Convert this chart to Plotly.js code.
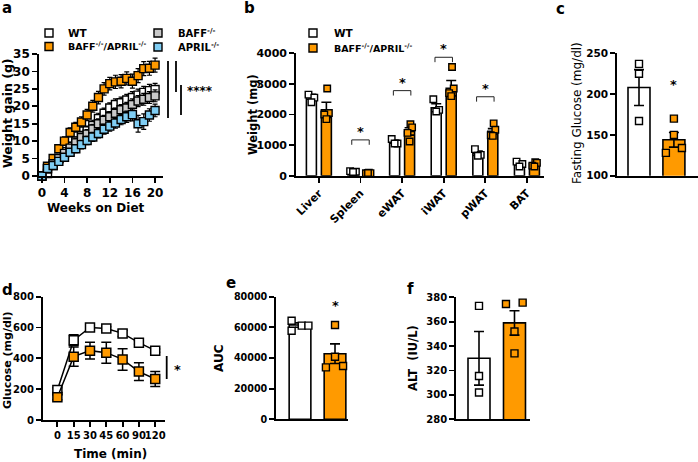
<!DOCTYPE html>
<html><head><meta charset="utf-8">
<script src="https://cdn.plot.ly/plotly-3.0.1.min.js"></script>
<style>html,body{margin:0;padding:0;background:#fff;} #chart{width:698px;height:462px;}</style>
</head><body><div id="chart"></div>
<script>
// ================= DATA =================
// (a) weight gain (g) over weeks on diet
const weeks = [0,1,2,3,4,5,6,7,8,9,10,11,12,13,14,15,16,17,18,19,20];
const gainWT      = [0,0.7,3,5,7,8.5,10,11.5,13,14.5,16.5,18,19.5,20.5,21,21.8,22.5,23.2,24,24.5,24.8];
const gainWTerr   = [0,0.5,0.8,1,1,1.2,1.2,1.3,1.3,1.5,1.5,1.5,1.5,1.6,1.6,1.6,1.7,1.7,1.7,1.8,1.8];
const gainDKO     = [0,2.8,5,7.8,10,12.5,14,15.5,17.5,20,22.5,25,26.5,27,27.2,28,27.2,28.8,30.8,30.9,31.8];
const gainDKOerr  = [0,0.5,0.8,1,1.2,1.3,1.4,1.5,1.6,1.7,1.8,1.8,1.8,1.9,1.9,1.9,2,2,2,2,2];
const gainBAFF    = [0,2,3.5,5,6.5,8,9.5,11,12,13.5,15,16,17,18,19,19.5,20.5,21.5,22,22.5,23];
const gainBAFFerr = [0,0.5,0.7,0.9,1,1.1,1.2,1.2,1.3,1.3,1.4,1.4,1.5,1.5,1.5,1.6,1.6,1.6,1.7,1.7,1.7];
const gainAPRIL   = [0,2.2,3,4.2,5.4,6.8,7.8,9,10.2,11.2,12.2,13.4,14.3,15.2,16.2,17,17.6,15,15.6,17.5,18.8];
const gainAPRILerr= [0,0.5,0.7,0.8,0.9,1,1.1,1.2,1.2,1.3,1.3,1.4,1.4,1.5,1.5,1.6,1.8,2.4,2.2,1.8,1.8];

// (b) organ weights (mg)
const organs   = ['Liver','Spleen','eWAT','iWAT','pWAT','BAT'];
const orgWT    = [2580,135,1110,2220,733,400];
const orgWTerr = [80,10,50,130,70,45];
const orgKO    = [2150,90,1445,2860,1450,390];
const orgKOerr = [250,10,120,250,90,35];
const orgWTpts = [[2650,2550,2400],[150,130,120],[1200,1050,1050],[2500,2150,2100],[870,680,650],[460,380,300]];
const orgKOpts = [[2850,2050,2000,1850],[95,85,80,90],[1680,1580,1400,1120],[3550,2850,2700,2600],[1710,1500,1320,1300],[440,420,330,300]];
const orgSigIdx = [1,2,3,4];
const orgSigY   = [1170,2780,3870,2580];

// (c) fasting glucose (mg/dl)
const fgWT = 208, fgWTerr = 22, fgWTpts = [237,225,167];
const fgKO = 144, fgKOerr = 9,  fgKOpts = [170,150,128,134];

// (d) GTT glucose (mg/dl)
const gttTimes  = ['0','15','30','45','60','90','120'];
const gttWT     = [195,518,600,593,562,502,450];
const gttWTerr  = [15,35,12,12,20,10,10];
const gttKO     = [147,411,450,437,393,314,266];
const gttKOerr  = [15,62,55,68,70,58,48];

// (e) AUC
const aucWT = 61500, aucWTerr = 1400, aucWTpts = [64300,57800,61100,61100];
const aucKO = 42800, aucKOerr = 6400, aucKOpts = [61500,40800,33900,34800];

// (f) ALT (IU/L)
const altWT = 330, altWTerr = 22, altWTpts = [373,315.5,302];
const altKO = 359, altKOerr = 10, altKOpts = [374.5,375.6,352,334];

// ================= STYLE / LAYOUT =================
const W = 698, H = 462;
const PX = x => x / W, PY = y => 1 - y / H;
const FONT = 'DejaVu Sans, Arial, sans-serif';
const ORANGE = '#FF9A00', BLUE = '#7FCDF3', GRAY = '#C9C9C9', BLACK = '#000';
const domX = (a, b) => [a / W, b / W];
const domY = (top, bot) => [1 - bot / H, 1 - top / H];

function axisStyle(o, fs) {
  return Object.assign({
    showline: true, linecolor: BLACK, linewidth: 1.8, ticks: 'outside', ticklen: 5,
    tickwidth: 1.8, tickcolor: BLACK, showgrid: false, zeroline: false, fixedrange: true,
    tickfont: {family: FONT, size: fs || 10, weight: 'bold', color: BLACK}, tickformat: 'd'
  }, o);
}

const traces = [];

// ---- panel a ----
function gainTrace(y, err, color, name) {
  return {type: 'scatter', mode: 'markers', x: weeks, y: y, name: name, xaxis: 'x', yaxis: 'y',
    cliponaxis: false,
    marker: {symbol: 'square', size: 8, color: color, line: {color: BLACK, width: 1.4}},
    error_y: {type: 'data', array: err, visible: true, color: BLACK, thickness: 1.2, width: 2.5}};
}
traces.push(gainTrace(gainWT, gainWTerr, '#FFFFFF', 'WT'));
traces.push(gainTrace(gainDKO, gainDKOerr, ORANGE, 'BAFF-/-/APRIL-/-'));
traces.push(gainTrace(gainBAFF, gainBAFFerr, GRAY, 'BAFF-/-'));
traces.push(gainTrace(gainAPRIL, gainAPRILerr, BLUE, 'APRIL-/-'));

// ---- bar helpers ----
function barTrace(xs, ys, errs, color, width, xa, ya) {
  return {type: 'bar', x: xs, y: ys, width: width, xaxis: xa, yaxis: ya, cliponaxis: false,
    marker: {color: color, line: {color: BLACK, width: 1.6}},
    error_y: {type: 'data', array: errs, visible: true, color: BLACK, thickness: 1.6, width: 5}};
}
function ptsTrace(xs, ys, color, size, xa, ya) {
  return {type: 'scatter', mode: 'markers', x: xs, y: ys, xaxis: xa, yaxis: ya, cliponaxis: false,
    marker: {symbol: 'square', size: size, color: color, line: {color: BLACK, width: 1.4}}};
}

// ---- panel b ----
const BOFF = 0.18, BW = 0.24;
const J3 = [-0.07, 0.07, 0], J4 = [0.02, 0.06, -0.05, 0];
const idxB = organs.map((_, i) => i);
traces.push(barTrace(idxB.map(i => i - BOFF), orgWT, orgWTerr, '#FFFFFF', BW, 'x2', 'y2'));
traces.push(barTrace(idxB.map(i => i + BOFF), orgKO, orgKOerr, ORANGE, BW, 'x2', 'y2'));
(function () {
  const xw = [], yw = [], xk = [], yk = [];
  orgWTpts.forEach((arr, i) => arr.forEach((v, j) => { xw.push(i - BOFF + J3[j % 3]); yw.push(v); }));
  orgKOpts.forEach((arr, i) => arr.forEach((v, j) => { xk.push(i + BOFF + J4[j % 4]); yk.push(v); }));
  traces.push(ptsTrace(xw, yw, '#FFFFFF', 6.5, 'x2', 'y2'));
  traces.push(ptsTrace(xk, yk, ORANGE, 6.5, 'x2', 'y2'));
})();

// ---- panel c ----
const jitC_WT = [0, 0, 0], jitC_KO = [0, 0, -0.23, 0.23];
traces.push(barTrace([0], [fgWT], [fgWTerr], '#FFFFFF', 0.63, 'x3', 'y3'));
traces.push(barTrace([1], [fgKO], [fgKOerr], ORANGE, 0.63, 'x3', 'y3'));
traces.push(ptsTrace(fgWTpts.map((_, j) => 0 + jitC_WT[j]), fgWTpts, '#FFFFFF', 7, 'x3', 'y3'));
traces.push(ptsTrace(fgKOpts.map((_, j) => 1 + jitC_KO[j]), fgKOpts, ORANGE, 7, 'x3', 'y3'));

// ---- panel d ----
const idxD = gttTimes.map((_, i) => i);
function gttTrace(y, err, color) {
  return {type: 'scatter', mode: 'lines+markers', x: idxD, y: y, xaxis: 'x4', yaxis: 'y4', cliponaxis: false,
    line: {color: BLACK, width: 1.5},
    marker: {symbol: 'square', size: 9, color: color, line: {color: BLACK, width: 1.5}},
    error_y: {type: 'data', array: err, visible: true, color: BLACK, thickness: 1.5, width: 5}};
}
traces.push(gttTrace(gttWT, gttWTerr, '#FFFFFF'));
traces.push(gttTrace(gttKO, gttKOerr, ORANGE));

// ---- panel e ----
const jitE_WT = [-0.24, -0.24, 0.05, 0.24], jitE_KO = [0, 0, -0.26, 0.23];
traces.push(barTrace([0], [aucWT], [aucWTerr], '#FFFFFF', 0.62, 'x5', 'y5'));
traces.push(barTrace([1], [aucKO], [aucKOerr], ORANGE, 0.62, 'x5', 'y5'));
traces.push(ptsTrace(aucWTpts.map((_, j) => 0 + jitE_WT[j]), aucWTpts, '#FFFFFF', 7, 'x5', 'y5'));
traces.push(ptsTrace(aucKOpts.map((_, j) => 1 + jitE_KO[j]), aucKOpts, ORANGE, 7, 'x5', 'y5'));

// ---- panel f ----
const jitF_WT = [0, 0, 0], jitF_KO = [-0.24, 0.23, 0, 0];
traces.push(barTrace([0], [altWT], [altWTerr], '#FFFFFF', 0.62, 'x6', 'y6'));
traces.push(barTrace([1], [altKO], [altKOerr], ORANGE, 0.62, 'x6', 'y6'));
traces.push(ptsTrace(altWTpts.map((_, j) => 0 + jitF_WT[j]), altWTpts, '#FFFFFF', 7, 'x6', 'y6'));
traces.push(ptsTrace(altKOpts.map((_, j) => 1 + jitF_KO[j]), altKOpts, ORANGE, 7, 'x6', 'y6'));

// ================= annotations & shapes =================
const ann = [];
function A(x, y, text, size, o) {
  ann.push(Object.assign({xref: 'paper', yref: 'paper', x: PX(x), y: PY(y), text: text, showarrow: false,
    xanchor: 'center', yanchor: 'middle',
    font: {family: FONT, size: size, weight: 'bold', color: BLACK}}, o || {}));
}
// panel letters
A(0, 8, 'a', 15, {xanchor: 'left'});
A(242, 8, 'b', 15, {xanchor: 'left'});
A(554, 9, 'c', 15, {xanchor: 'left'});
A(0, 290, 'd', 15, {xanchor: 'left'});
A(224, 283, 'e', 15, {xanchor: 'left'});
A(405, 289, 'f', 15, {xanchor: 'left'});
// axis titles
A(7, 113, 'Weight gain (g)', 12.5, {textangle: -90});
A(96, 208, 'Weeks on Diet', 12);
A(253, 115, 'Weight (mg)', 11.5, {textangle: -90});
A(577, 113, 'Fasting Glucose (mg/dl)', 12, {textangle: -90,
  font: {family: FONT, size: 12, color: BLACK}});
A(7, 360, 'Glucose (mg/dl)', 11, {textangle: -90});
A(110, 454, 'Time (min)', 12);
A(219, 358, 'AUC', 12, {textangle: -90});
A(413, 358, 'ALT  (IU/L)', 11.5, {textangle: -90});
// legends text
const SUP = '<sup>-/-</sup>';
A(66, 33, 'WT', 10.5, {xanchor: 'left'});
A(66, 46, 'BAFF' + SUP + '/APRIL' + SUP, 9.5, {xanchor: 'left'});
A(176, 33, 'BAFF' + SUP, 10, {xanchor: 'left'});
A(176, 47, 'APRIL' + SUP, 10, {xanchor: 'left'});
A(332, 33, 'WT', 10.5, {xanchor: 'left'});
A(332, 48, 'BAFF' + SUP + '/APRIL' + SUP, 9.5, {xanchor: 'left'});
// significance stars
A(200, 91, '****', 12);
A(177, 369, '*', 13);
orgSigIdx.forEach((g, k) => {
  ann.push({xref: 'x2', yref: 'y2', x: g, y: orgSigY[k], text: '*', showarrow: false, yanchor: 'bottom',
    yshift: -1, font: {family: FONT, size: 13, weight: 'bold', color: BLACK}});
});
ann.push({xref: 'x3', yref: 'y3', x: 1, y: 200, text: '*', showarrow: false, yanchor: 'bottom',
  font: {family: FONT, size: 13, weight: 'bold', color: BLACK}});
ann.push({xref: 'x5', yref: 'y5', x: 1, y: 68000, text: '*', showarrow: false, yanchor: 'bottom',
  font: {family: FONT, size: 13, weight: 'bold', color: BLACK}});

const shapes = [];
function sq(cx, cy, color) {
  shapes.push({type: 'rect', xref: 'paper', yref: 'paper', x0: PX(cx - 4), x1: PX(cx + 4), y0: PY(cy + 4), y1: PY(cy - 4),
    fillcolor: color, line: {color: BLACK, width: 1.4}});
}
sq(49, 33, '#FFFFFF'); sq(49, 46.5, ORANGE); sq(158, 33, GRAY); sq(158, 47, BLUE);
sq(313, 33, '#FFFFFF'); sq(313, 48, ORANGE);
function vline(x, y0, y1, w) {
  shapes.push({type: 'line', xref: 'paper', yref: 'paper', x0: PX(x), x1: PX(x), y0: PY(y0), y1: PY(y1),
    line: {color: BLACK, width: w || 1.8}});
}
vline(168, 61, 118); vline(176, 61, 92); vline(181, 85, 115);
vline(166.7, 356, 379);
orgSigIdx.forEach((g, k) => {
  const y = orgSigY[k], d = 160, a = g - 0.21, b = g + 0.21;
  shapes.push({type: 'path', xref: 'x2', yref: 'y2', path: `M ${a},${y - d} L ${a},${y} L ${b},${y} L ${b},${y - d}`,
    line: {color: '#222', width: 1}});
});

const layout = {
  width: W, height: H, margin: {l: 0, r: 0, t: 0, b: 0}, autosize: false,
  paper_bgcolor: '#FFFFFF', plot_bgcolor: 'rgba(0,0,0,0)', showlegend: false, barmode: 'overlay',
  font: {family: FONT, color: BLACK},
  xaxis: axisStyle({domain: domX(39, 163), anchor: 'y', range: [-0.5, 21.4], tickvals: [0, 4, 8, 12, 16, 20], tickangle: 0}, 12),
  yaxis: axisStyle({domain: domY(54, 176), anchor: 'x', range: [0, 35], dtick: 5, tick0: 0}, 12),
  xaxis2: axisStyle({domain: domX(296, 544), anchor: 'y2', range: [-0.55, 5.41], tickvals: idxB, ticktext: organs, tickangle: -45}, 11),
  yaxis2: axisStyle({domain: domY(53.3, 175.7), anchor: 'x2', range: [0, 4000], dtick: 1000, tick0: 0}, 11),
  xaxis3: axisStyle({domain: domX(617, 698), anchor: 'y3', range: [-0.63, 1.69], ticks: '', showticklabels: false}, 10.5),
  yaxis3: axisStyle({domain: domY(53.3, 175.7), anchor: 'x3', range: [100, 250], dtick: 50, tick0: 100}, 10.5),
  xaxis4: axisStyle({domain: domX(42.7, 165), anchor: 'y4', range: [-0.9, 6.6], tickvals: idxD, ticktext: gttTimes, tickangle: 0}, 10),
  yaxis4: axisStyle({domain: domY(296.7, 420), anchor: 'x4', range: [0, 800], dtick: 200, tick0: 0}, 10),
  xaxis5: axisStyle({domain: domX(276, 348), anchor: 'y5', range: [-0.686, 1.371], ticks: '', showticklabels: false}, 9.6),
  yaxis5: axisStyle({domain: domY(296.7, 419.3), anchor: 'x5', range: [0, 80000], dtick: 20000, tick0: 0}, 9.6),
  xaxis6: axisStyle({domain: domX(456, 530), anchor: 'y6', range: [-0.648, 1.437], ticks: '', showticklabels: false}, 10),
  yaxis6: axisStyle({domain: domY(297.3, 419.3), anchor: 'x6', range: [280, 380], dtick: 20, tick0: 280}, 10),
  annotations: ann, shapes: shapes
};

Plotly.newPlot('chart', traces, layout, {staticPlot: true, displayModeBar: false});
</script>
</body></html>
